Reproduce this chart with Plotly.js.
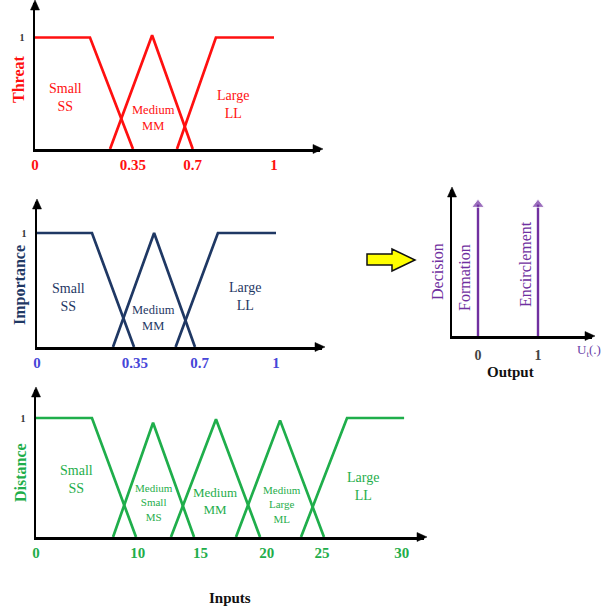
<!DOCTYPE html>
<html>
<head>
<meta charset="utf-8">
<script src="https://cdn.plot.ly/plotly-3.0.1.min.js"></script>
<style>html,body{margin:0;padding:0;background:#fff}#chart{width:616px;height:612px}</style>
</head>
<body>
<div id="chart"></div>
<script>
// ---------- DATA ----------
// Threat membership functions (normalized universe, breakpoints)
const threatSmallX = [0, 0.23, 0.41];
const threatSmallY = [1, 1, 0];
const threatMediumX = [0.314, 0.49, 0.66];
const threatMediumY = [0, 1.02, 0];
const threatLargeX = [0.594, 0.757, 1.0];
const threatLargeY = [0, 1, 1];
const threatTickVals = [0, 0.41, 0.66, 1.0];
const threatTickText = ['0', '0.35', '0.7', '1'];

// Importance membership functions
const impSmallX = [0, 0.23, 0.406];
const impSmallY = [1, 1, 0];
const impMediumX = [0.318, 0.49, 0.661];
const impMediumY = [0, 1.0, 0];
const impLargeX = [0.58, 0.757, 1.0];
const impLargeY = [0, 1, 1];
const impTickVals = [0, 0.41, 0.68, 1.0];
const impTickText = ['0', '0.35', '0.7', '1'];

// Distance membership functions
const distSmallX = [0, 4.56, 8.15];
const distSmallY = [1, 1, 0];
const distMedSmallX = [6.28, 9.54, 12.88];
const distMedSmallY = [0, 0.96, 0];
const distMediumX = [11.0, 14.67, 18.26];
const distMediumY = [0, 0.99, 0];
const distMedLargeX = [16.3, 19.89, 23.47];
const distMedLargeY = [0, 0.98, 0];
const distLargeX = [21.6, 25.35, 30];
const distLargeY = [0, 1, 1];
const distTickVals = [0, 8.3, 13.4, 18.8, 23.3, 29.8];
const distTickText = ['0', '10', '15', '20', '25', '30'];

// Output singletons
const formationX = [0, 0];
const formationY = [0, 0.9];
const encirclementX = [1, 1];
const encirclementY = [0, 0.9];
const outTickVals = [0, 1];
const outTickText = ['0', '1'];

// Labels
const threatLabels = ['Small<br>SS', 'Medium<br>MM', 'Large<br>LL'];
const impLabels = ['Small<br>SS', 'Medium<br>MM', 'Large<br>LL'];
const distLabels = ['Small<br>SS', 'Medium<br>Small<br>MS', 'Medium<br>MM', 'Medium<br>Large<br>ML', 'Large<br>LL'];
const outLabels = ['Formation', 'Encirclement'];
const axisTitles = ['Threat', 'Importance', 'Distance', 'Decision'];

// ---------- LAYOUT ----------
const W = 616, H = 612;
const px = v => v / W;
const py = v => 1 - v / H;
const SERIF = 'Liberation Serif, Times New Roman, serif';

const RED = '#ff1010';
const NAVY = '#1f3864';
const IMPTICK = '#4646d8';
const GREEN = '#1fae4b';
const PURPLE = '#7030a0';

function line(x, y, color, xa, ya) {
  return {x: x, y: y, type: 'scatter', mode: 'lines', xaxis: xa, yaxis: ya,
          line: {color: color, width: 2.7}, hoverinfo: 'skip', showlegend: false};
}

const traces = [
  line(threatSmallX, threatSmallY, RED, 'x', 'y'),
  line(threatMediumX, threatMediumY, RED, 'x', 'y'),
  line(threatLargeX, threatLargeY, RED, 'x', 'y'),
  line(impSmallX, impSmallY, NAVY, 'x2', 'y2'),
  line(impMediumX, impMediumY, NAVY, 'x2', 'y2'),
  line(impLargeX, impLargeY, NAVY, 'x2', 'y2'),
  line(distSmallX, distSmallY, GREEN, 'x3', 'y3'),
  line(distMedSmallX, distMedSmallY, GREEN, 'x3', 'y3'),
  line(distMediumX, distMediumY, GREEN, 'x3', 'y3'),
  line(distMedLargeX, distMedLargeY, GREEN, 'x3', 'y3'),
  line(distLargeX, distLargeY, GREEN, 'x3', 'y3'),
];
[[formationX, formationY], [encirclementX, encirclementY]].forEach(([x, y]) => {
  traces.push({x: x, y: y, type: 'scatter', mode: 'lines+markers', xaxis: 'x4', yaxis: 'y4',
    line: {color: PURPLE, width: 2.4},
    marker: {color: PURPLE, symbol: 'triangle-up', size: [0, 11]},
    cliponaxis: false, hoverinfo: 'skip', showlegend: false});
});

function xax(d, range, tv, tt, color, size, standoff) {
  return {domain: d, range: range, tickvals: tv, ticktext: tt, ticks: '', showgrid: false,
    zeroline: false, showline: true, linecolor: '#000', linewidth: 2.5, fixedrange: true,
    ticklabelstandoff: standoff || 0,
    tickfont: {family: SERIF, size: size || 15, color: color, weight: 'bold'}};
}
function yax(d, range, tv, tt) {
  return {domain: d, range: range, tickvals: tv, ticktext: tt, ticks: '', showgrid: false,
    zeroline: false, showline: true, linecolor: '#000', linewidth: 2.5, fixedrange: true,
    ticklabelstandoff: 6,
    tickfont: {family: SERIF, size: 10, color: '#333', weight: 'bold'}};
}

const layout = {
  width: W, height: H, margin: {l: 0, r: 0, t: 0, b: 0},
  paper_bgcolor: '#fff', plot_bgcolor: 'rgba(0,0,0,0)', showlegend: false,
  xaxis: Object.assign(xax([px(35), px(320)], [0, 285 / 239], threatTickVals, threatTickText, RED), {anchor: 'y'}),
  yaxis: Object.assign(yax([py(149), py(3)], [0, 146 / 111.5], [1], ['1']), {anchor: 'x'}),
  xaxis2: Object.assign(xax([px(37), px(322)], [0, 285 / 239], impTickVals, impTickText, IMPTICK), {anchor: 'y2'}),
  yaxis2: Object.assign(yax([py(347), py(202)], [0, 145 / 114], [1], ['1']), {anchor: 'x2'}),
  xaxis3: Object.assign(xax([px(36), px(424)], [0, 388 / 12.27], distTickVals, distTickText, GREEN), {anchor: 'y3'}),
  yaxis3: Object.assign(yax([py(537), py(390)], [0, 147 / 119], [1], ['1']), {anchor: 'x3'}),
  xaxis4: Object.assign(xax([px(452), px(592)], [-26 / 60, 114 / 60], outTickVals, outTickText, '#444', 14, 5), {anchor: 'y4'}),
  yaxis4: Object.assign(yax([py(336), py(190)], [0, 1], [], []), {anchor: 'x4', showticklabels: false}),
  annotations: [],
  shapes: []
};

function poly(pts, fill, lineColor, lw) {
  return {type: 'path', xref: 'paper', yref: 'paper',
    path: 'M ' + pts.map(p => px(p[0]).toFixed(5) + ',' + py(p[1]).toFixed(5)).join(' L ') + ' Z',
    fillcolor: fill, line: {color: lineColor, width: lw}};
}

// axis arrowheads (x end, baseline y) and (axis x, top y)
const axisEnds = [[320, 149, 35, 3], [322, 347, 37, 202], [424, 537, 36, 390], [592, 336, 452, 190]];
axisEnds.forEach(([xe, yb, xl, yt]) => {
  layout.shapes.push(poly([[xe + 3, yb], [xe - 7, yb - 4.5], [xe - 7, yb + 4.5]], '#000', '#000', 0.5));
  layout.shapes.push(poly([[xl, yt - 3], [xl - 4.5, yt + 7], [xl + 4.5, yt + 7]], '#000', '#000', 0.5));
});

function txt(t, x, y, color, size, opts) {
  return Object.assign({xref: 'paper', yref: 'paper', x: px(x), y: py(y), text: t, showarrow: false,
    xanchor: 'center', yanchor: 'middle',
    font: {family: SERIF, size: size, color: color}}, opts || {});
}
const boldFont = (size, color) => ({family: SERIF, size: size, color: color, weight: 'bold'});

// Panel labels
layout.annotations.push(txt(threatLabels[0], 65, 98, RED, 14));
layout.annotations.push(txt(threatLabels[1], 153, 118, RED, 12.5));
layout.annotations.push(txt(threatLabels[2], 233, 104, RED, 14));
layout.annotations.push(txt(axisTitles[0], 19, 80, RED, 16, {textangle: -90, font: boldFont(16, RED)}));

layout.annotations.push(txt(impLabels[0], 68, 297, NAVY, 14));
layout.annotations.push(txt(impLabels[1], 153, 318, NAVY, 12.5));
layout.annotations.push(txt(impLabels[2], 245, 296, NAVY, 14));
layout.annotations.push(txt(axisTitles[1], 20, 285, NAVY, 16, {textangle: -90, font: boldFont(16, NAVY)}));

layout.annotations.push(txt(distLabels[0], 76, 479, GREEN, 14));
layout.annotations.push(txt(distLabels[1], 154, 502, GREEN, 11));
layout.annotations.push(txt(distLabels[2], 215, 501, GREEN, 13));
layout.annotations.push(txt(distLabels[3], 282, 504, GREEN, 11));
layout.annotations.push(txt(distLabels[4], 363, 487, GREEN, 14));
layout.annotations.push(txt(axisTitles[2], 20, 472, GREEN, 16, {textangle: -90, font: boldFont(16, GREEN)}));

layout.annotations.push(txt(axisTitles[3], 437, 272, PURPLE, 16, {textangle: -90}));
layout.annotations.push(txt(outLabels[0], 465, 278, PURPLE, 16, {textangle: -90}));
layout.annotations.push(txt(outLabels[1], 525, 264, PURPLE, 16, {textangle: -90}));
layout.annotations.push(txt('U<sub>t</sub>(.)', 589, 350, '#6a3fa8', 13));
layout.annotations.push(txt('Output', 510, 372, '#111', 15, {font: boldFont(15, '#111')}));
layout.annotations.push(txt('Inputs', 230, 598, '#111', 15, {font: boldFont(15, '#111')}));

// Yellow block arrow
layout.shapes.push(poly([[367, 254], [392, 254], [392, 249], [415, 260], [392, 271], [392, 265], [367, 265]],
  '#ffff00', '#111', 1.5));

Plotly.newPlot('chart', traces, layout, {staticPlot: true, displayModeBar: false});
</script>
</body>
</html>
